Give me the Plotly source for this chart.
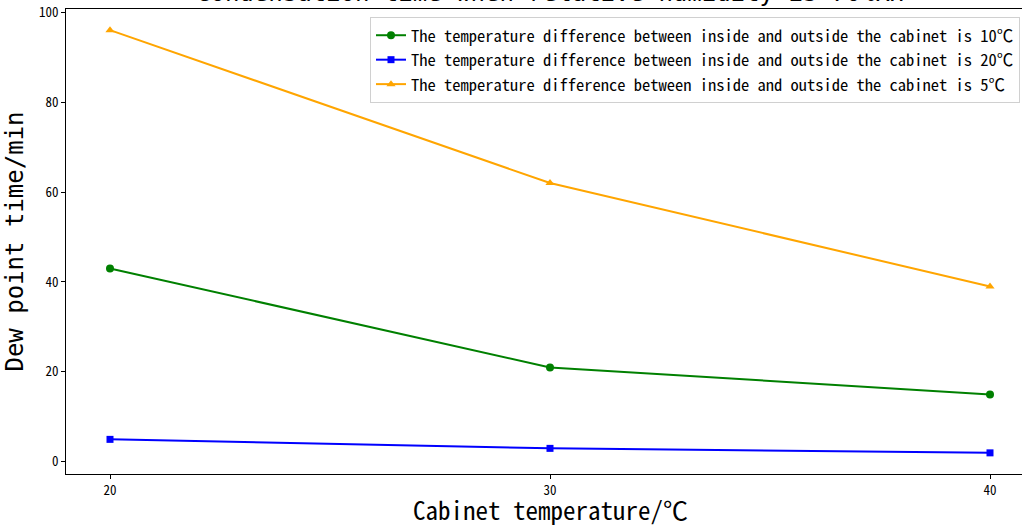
import plotly.graph_objects as go

cabinet_temp = [20, 30, 40]
diff_10 = [43, 21, 15]
diff_20 = [5, 3, 2]
diff_5 = [96, 62, 39]
series_names = [
    "The temperature difference between inside and outside the cabinet is 10℃",
    "The temperature difference between inside and outside the cabinet is 20℃",
    "The temperature difference between inside and outside the cabinet is 5℃",
]
title_text = "Condensation time when relative humidity is 70%RH"
x_title = "Cabinet temperature/℃"
y_title = "Dew point time/min"
x_ticks = [20, 30, 40]
y_ticks = [0, 20, 40, 60, 80, 100]

W, H = 1022, 525
ml, mr, mt, mb = 66, 0, 9, 51
pw, ph = W - ml - mr, H - mt - mb

HEI = "Noto Sans Mono CJK SC, Noto Sans CJK SC, DejaVu Sans Mono, monospace"

fig = go.Figure()
fig.add_trace(go.Scatter(x=cabinet_temp, y=diff_10, mode="lines+markers", name=series_names[0],
                         line=dict(color="green", width=2), marker=dict(symbol="circle", size=8, color="green")))
fig.add_trace(go.Scatter(x=cabinet_temp, y=diff_20, mode="lines+markers", name=series_names[1],
                         line=dict(color="blue", width=2), marker=dict(symbol="square", size=7, color="blue")))
fig.add_trace(go.Scatter(x=cabinet_temp, y=diff_5, mode="lines+markers", name=series_names[2],
                         line=dict(color="orange", width=2), marker=dict(symbol="triangle-up", size=8, color="orange")))

tickfont = dict(family=HEI, size=13, color="black")
fig.update_layout(
    width=W, height=H,
    margin=dict(l=ml, r=mr, t=mt, b=mb, pad=0),
    paper_bgcolor="white", plot_bgcolor="white",
    showlegend=True,
    legend=dict(
        x=(1020 - ml) / pw, y=1 - (17 - mt) / ph, xanchor="right", yanchor="top",
        bgcolor="rgba(255,255,255,0.8)", bordercolor="#d0d0d0", borderwidth=1,
        font=dict(family=HEI, size=16.5, color="black"),
        tracegroupgap=0, itemwidth=30,
    ),
    xaxis=dict(
        range=[19, 19 + pw / 44.0], tickvals=x_ticks, ticktext=[str(v) for v in x_ticks],
        showgrid=False, zeroline=False, showline=True, linecolor="black", linewidth=1, mirror=True,
        ticks="outside", ticklen=4, tickcolor="black", tickfont=tickfont,
    ),
    yaxis=dict(
        range=[-2.7, 100.7], tickvals=y_ticks, ticktext=[str(v) for v in y_ticks],
        showgrid=False, zeroline=False, showline=True, linecolor="black", linewidth=1, mirror=False,
        ticks="outside", ticklen=4, tickcolor="black", tickfont=tickfont,
        title=dict(text=y_title, font=dict(family="DejaVu Sans Mono, monospace", size=24, color="black"), standoff=8),
    ),
)
fig.add_annotation(
    text=x_title, xref="paper", yref="paper",
    x=(550 - ml) / pw, y=-(509 - (H - mb)) / ph, xanchor="center", yanchor="middle",
    showarrow=False, borderpad=0, font=dict(family=HEI, size=25, color="black"),
)
fig.add_annotation(
    text=title_text, xref="paper", yref="paper",
    x=(550 - ml) / pw, y=1 + (mt - 9) / ph, xanchor="center", yanchor="bottom",
    showarrow=False, font=dict(family="DejaVu Sans Mono, monospace", size=24, color="black"),
)
fig.write_html("out.html", config={"displayModeBar": False},
               post_script="document.body.style.margin='0';document.body.style.overflow='hidden';")
